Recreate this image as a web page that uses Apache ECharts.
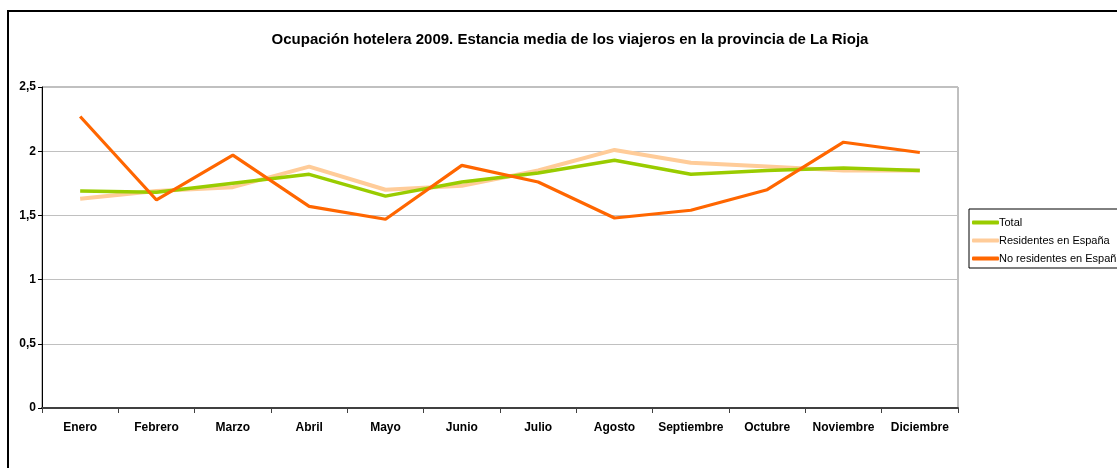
<!DOCTYPE html>
<html>
<head>
<meta charset="utf-8">
<script src="https://cdn.jsdelivr.net/npm/echarts@6/dist/echarts.min.js"></script>
<style>
  html, body { margin: 0; padding: 0; background: #fff; }
  #grafico { width: 1117px; height: 468px; }
</style>
</head>
<body>
<div id="grafico"></div>
<script>
var meses = ["Enero", "Febrero", "Marzo", "Abril", "Mayo", "Junio", "Julio",
  "Agosto", "Septiembre", "Octubre", "Noviembre", "Diciembre"];
var total = [1.69, 1.68, 1.75, 1.82, 1.65, 1.76, 1.83, 1.93, 1.82, 1.85, 1.87, 1.85];
var residentes = [1.63, 1.69, 1.72, 1.88, 1.70, 1.73, 1.85, 2.01, 1.91, 1.88, 1.85, 1.85];
var noResidentes = [2.27, 1.62, 1.97, 1.57, 1.47, 1.89, 1.76, 1.48, 1.54, 1.70, 2.07, 1.99];

var fuente = "Liberation Sans";

// Configuración del gráfico
var option = {
  animation: false,
  color: ["#99cc00", "#ffcc99", "#ff6600"],
  title: {
    text: "Ocupación hotelera 2009. Estancia media de los viajeros en la provincia de La Rioja",
    left: 565,
    textAlign: "center",
    top: 27,
    textStyle: { fontFamily: fuente, fontSize: 15, fontWeight: "bold", color: "#000" },
  },
  legend: {
    orient: "vertical",
    left: 969,
    top: 209,
    padding: [7, 30, 3, 3],
    itemGap: 5,
    itemWidth: 27,
    itemHeight: 4,
    icon: "roundRect",
    borderColor: "#000",
    borderWidth: 1,
    borderRadius: 0,
    textStyle: { fontFamily: fuente, fontSize: 11, color: "#000", padding: [0, 0, 0, -5], lineHeight: 13 },
    data: ["Total", "Residentes en España", "No residentes en España"],
  },
  grid: {
    left: 42,
    right: 159,
    top: 87,
    bottom: 60,
    show: true,
    borderColor: "#808080",
    borderWidth: 1,
  },
  xAxis: {
    type: "category",
    boundaryGap: true,
    data: meses,
    axisLine: { lineStyle: { color: "#404040", width: 2 } },
    axisTick: { show: true, length: 5, lineStyle: { color: "#404040" } },
    axisLabel: { fontFamily: fuente, fontSize: 12, fontWeight: "bold", color: "#000", margin: 14, interval: 0 },
  },
  yAxis: {
    type: "value",
    min: 0,
    max: 2.5,
    interval: 0.5,
    axisLine: { show: true, lineStyle: { color: "#000", width: 1 } },
    axisTick: { show: true, length: 4, lineStyle: { color: "#000" } },
    axisLabel: {
      fontFamily: fuente, fontSize: 12, fontWeight: "bold", color: "#000", margin: 6,
      formatter: function (v) { return String(v).replace(".", ","); },
    },
    splitLine: { lineStyle: { color: "#c0c0c0", width: 1 } },
  },
  series: [
    { name: "Total", type: "line", data: total, showSymbol: false, lineStyle: { width: 3.5 }, z: 3 },
    { name: "Residentes en España", type: "line", data: residentes, showSymbol: false, lineStyle: { width: 4 }, z: 2 },
    { name: "No residentes en España", type: "line", data: noResidentes, showSymbol: false, lineStyle: { width: 3.2 }, z: 4 },
  ],
  graphic: [
    {
      type: "rect",
      shape: { x: 8, y: 11, width: 1130, height: 480 },
      style: { fill: null, stroke: "#000", lineWidth: 2 },
      silent: true,
    },
  ],
};

var chart = echarts.init(document.getElementById("grafico"));
chart.setOption(option);
</script>
</body>
</html>
